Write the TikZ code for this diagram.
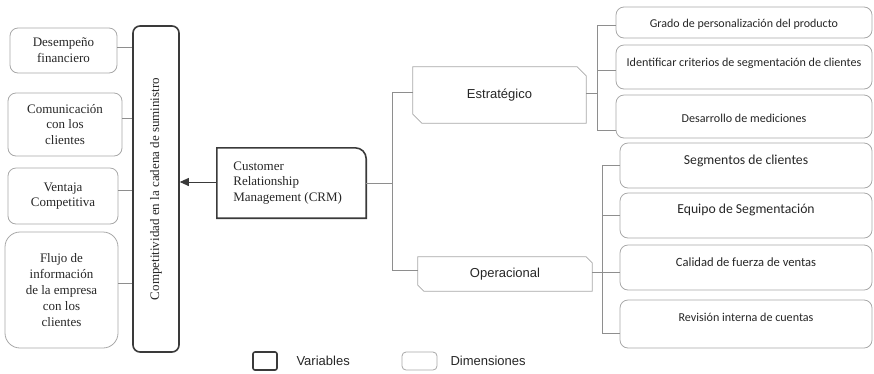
\documentclass[tikz,border=0pt]{standalone}
\usepackage{fontspec}
\setmainfont{Liberation Serif}
\newfontfamily\arialf{Liberation Sans}
\newfontfamily\calibrif{Carlito}
\usetikzlibrary{arrows.meta,calc}
\definecolor{darkline}{HTML}{3A3A3A}
\definecolor{lightline}{HTML}{A8A8A8}
\definecolor{connline}{HTML}{8E8E8E}
\definecolor{txt}{HTML}{262626}
\tikzset{
  varbox/.style={draw=darkline,line width=1.6pt,rounded corners=7pt,inner sep=0pt},
  dimbox/.style={draw=lightline,line width=0.8pt,rounded corners=8pt,inner sep=0pt},
  plainbox/.style={inner sep=0pt},
  conn/.style={draw=connline,line width=0.8pt},
  serift/.style={text=txt,font=\fontsize{13}{15.8}\selectfont,align=center},
  sanst/.style={text=txt,font=\arialf\fontsize{13}{15}\selectfont},
  calt/.style={text=txt,font=\calibrif\fontsize{12.1}{14}\selectfont},
  calbig/.style={text=txt,font=\calibrif\fontsize{13.7}{15}\selectfont},
}
\begin{document}
\begin{tikzpicture}[x=1pt,y=-1pt]
\useasboundingbox (0,0) rectangle (874,373);

% ---- left column: dimensions of supply-chain competitiveness
\node[dimbox,minimum width=107pt,minimum height=45pt] (des) at (63.5,50.5) {};
\node[serift] (desT) at (des.center) {Desempeño\\financiero};
\node[dimbox,minimum width=114pt,minimum height=63pt] (com) at (65,124.5) {};
\node[serift] (comT) at (com.center) {Comunicación\\con los\\clientes};
\node[dimbox,minimum width=110pt,minimum height=56pt] (ven) at (63,196) {};
\node[serift] (venT) at (ven.center) {Ventaja\\Competitiva};
\node[dimbox,rounded corners=15pt,minimum width=113pt,minimum height=116pt] (flu) at (61.5,290) {};
\node[serift] (fluT) at (flu.center) {Flujo de\\información\\de la empresa\\con los\\clientes};

% ---- dependent variable
\node[varbox,minimum width=46pt,minimum height=326pt] (var) at (156,189) {};
\node[serift,rotate=90] (varT) at (var.center) {Competitividad en la cadena de suministro};

\draw[conn] (des.east |- 0,47) -- (var.west |- 0,47);
\draw[conn] (com.east |- 0,118) -- (var.west |- 0,118);
\draw[conn] (ven.east |- 0,190) -- (var.west |- 0,190);
\draw[conn] (flu.east |- 0,283) -- (var.west |- 0,283);

% ---- independent variable: CRM
\node[plainbox,minimum width=149pt,minimum height=70pt] (crm) at (291.5,183) {};
\draw[draw=darkline,line width=1.6pt] (crm.south west) -- (crm.north west)
  -- ([xshift=-11pt]crm.north east) arc[start angle=90,end angle=0,radius=11pt]
  -- (crm.south east) -- cycle;
\node[serift,align=left,anchor=west] (crmT) at ([xshift=13pt]crm.west) {Customer\\Relationship\\Management (CRM)};
\draw[draw=darkline,line width=0.9pt,-{Triangle[length=9pt,width=8pt]}] (crm.west |- 0,182) -- (var.east |- 0,182);

% ---- CRM dimensions
\node[plainbox,minimum width=173pt,minimum height=56pt] (est) at (499.5,95) {};
\draw[draw=lightline,line width=0.8pt] (est.north west) -- ([xshift=-9pt]est.north east)
  -- ([yshift=-9pt]est.north east) -- (est.south east) -- ([xshift=9pt]est.south west)
  -- ([yshift=9pt]est.south west) -- cycle;
\node[sanst] (estT) at (est.center) {Estratégico};

\node[plainbox,minimum width=174pt,minimum height=34pt] (ope) at (505,274) {};
\draw[draw=lightline,line width=0.8pt] (ope.north west) -- ([xshift=-6pt]ope.north east)
  -- ([yshift=-6pt]ope.north east) -- (ope.south east) -- ([xshift=6pt]ope.south west)
  -- ([yshift=6pt]ope.south west) -- cycle;
\node[sanst] (opeT) at (ope.center) {Operacional};

\coordinate (trunkTop) at (392,92);
\coordinate (trunkBot) at (392,270);
\draw[conn] (crm.east |- 0,183) -- (trunkTop |- 0,183);
\draw[conn] (est.west |- trunkTop) -- (trunkTop) -- (trunkBot) -- (ope.west |- trunkBot);

% ---- strategic indicators
\node[dimbox,minimum width=256pt,minimum height=31pt] (gra) at (744,22.5) {};
\node[calt,font=\calibrif\fontsize{12}{14}\selectfont] (graT) at ([yshift=-1.5pt]gra.center) {Grado de personalización del producto};
\node[dimbox,minimum width=256pt,minimum height=44pt] (ide) at (744,67) {};
\node[calt] (ideT) at ([yshift=4pt]ide.center) {Identificar criterios de segmentación de clientes};
\node[dimbox,minimum width=256pt,minimum height=43pt] (dsa) at (744,116.5) {};
\node[calt] (dsaT) at ([yshift=-1.5pt]dsa.center) {Desarrollo de mediciones};

\coordinate (b1Top) at (597,25);
\coordinate (b1Bot) at (597,130);
\draw[conn] (est.east |- 0,93) -- (b1Top |- 0,93);
\draw[conn] (gra.west |- b1Top) -- (b1Top) -- (b1Bot) -- (dsa.west |- b1Bot);
\draw[conn] (b1Top |- 0,70) -- (ide.west |- 0,70);

% ---- operational indicators
\node[dimbox,minimum width=252pt,minimum height=45pt] (seg) at (746,165.5) {};
\node[calbig] (segT) at ([yshift=4.5pt]seg.center) {Segmentos de clientes};
\node[dimbox,minimum width=252pt,minimum height=45pt] (equ) at (746,215.5) {};
\node[calbig] (equT) at ([yshift=5.5pt]equ.center) {Equipo de Segmentación};
\node[dimbox,minimum width=252pt,minimum height=45pt] (cal) at (746,267.5) {};
\node[calt,font=\calibrif\fontsize{12.6}{14}\selectfont] (calT) at ([yshift=5.5pt]cal.center) {Calidad de fuerza de ventas};
\node[dimbox,minimum width=252pt,minimum height=48pt] (rev) at (746,324) {};
\node[calt] (revT) at ([yshift=7pt]rev.center) {Revisión interna de cuentas};

\coordinate (b2Top) at (602,165);
\coordinate (b2Bot) at (602,333);
\draw[conn] (ope.east |- 0,272) -- (b2Top |- 0,272);
\draw[conn] (seg.west |- b2Top) -- (b2Top) -- (b2Bot) -- (rev.west |- b2Bot);
\draw[conn] (b2Top |- 0,215) -- (equ.west |- 0,215);
\draw[conn] (b2Top |- 0,272) -- (cal.west |- 0,272);

% ---- legend
\node[varbox,rounded corners=2pt,minimum width=24pt,minimum height=18pt] (legVar) at (265,361) {};
\node[sanst,anchor=west] (legVarT) at (293,361) {Variables};
\node[dimbox,rounded corners=4pt,minimum width=35pt,minimum height=18pt] (legDim) at (419.5,361) {};
\node[sanst,anchor=west] (legDimT) at (447,361) {Dimensiones};
\end{tikzpicture}
\end{document}
